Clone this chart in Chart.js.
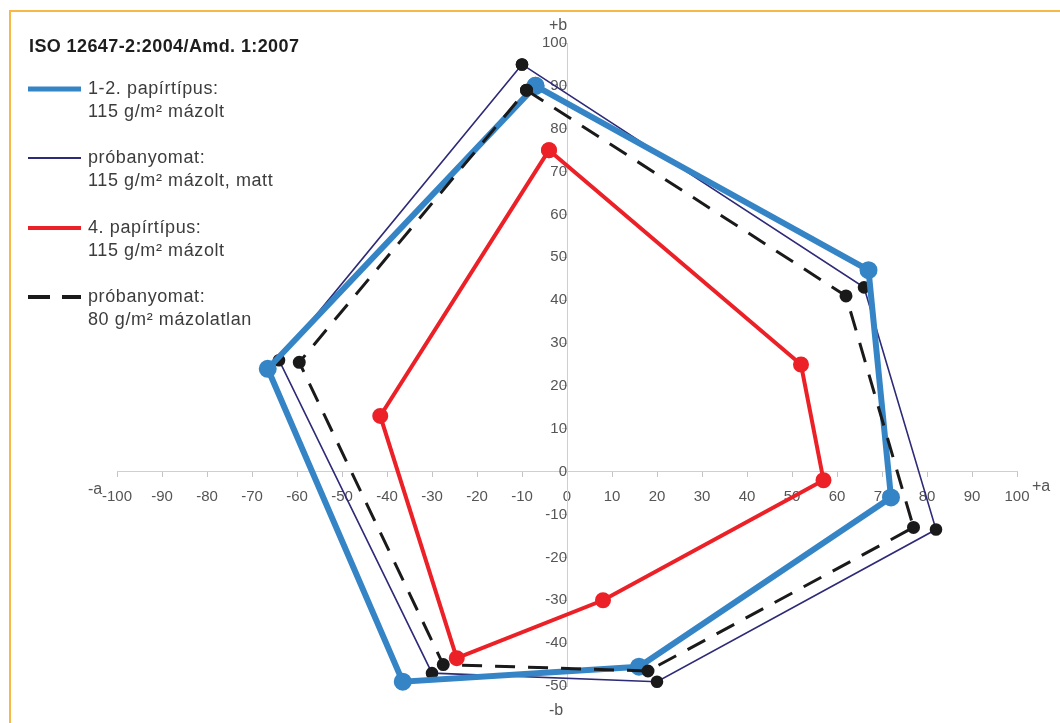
<!DOCTYPE html>
<html lang="hu">
<head>
<meta charset="utf-8">
<title>a*b* gamut</title>
<script src="https://cdn.jsdelivr.net/npm/chart.js@4/dist/chart.umd.min.js"></script>
<style>
  html, body { margin: 0; padding: 0; background: #fff; overflow: hidden; }
  #frame { position: absolute; left: 9px; top: 10px; width: 1100px; height: 800px;
           border-left: 2px solid #f8b848; border-top: 2px solid #f8b848; box-sizing: border-box; }
  #wrap { position: absolute; left: 0; top: 0; width: 1060px; height: 723px; }
</style>
</head>
<body>
<div id="frame"></div>
<div id="wrap"><canvas id="c"></canvas></div>
<script>
// a*, b* coordinates of the six gamut corners (Y, R, M, B, C, G order)
const paper12A = [-7, 67, 72, 16, -36.5, -66.5];
const paper12B = [90, 47, -6, -45.5, -49, 24];

const proofMattA = [-10, 66, 82, 20, -30, -64];
const proofMattB = [95, 43, -13.5, -49, -47, 26];

const paper4A = [-4, 52, 57, 8, -24.5, -41.5];
const paper4B = [75, 25, -2, -30, -43.5, 13];

const proofUncoatedA = [-9, 62, 77, 18, -27.5, -59.5];
const proofUncoatedB = [89, 41, -13, -46.5, -45, 25.5];

// axis ranges and labels
const aTicks = [-100, -90, -80, -70, -60, -50, -40, -30, -20, -10, 0, 10, 20, 30, 40, 50, 60, 70, 80, 90, 100];
const bTicks = [-50, -40, -30, -20, -10, 0, 10, 20, 30, 40, 50, 60, 70, 80, 90, 100];

const legendTitle = 'ISO 12647-2:2004/Amd. 1:2007';
const legendLabels = [
  ['1-2. papírtípus:', '115 g/m² mázolt'],
  ['próbanyomat:', '115 g/m² mázolt, matt'],
  ['4. papírtípus:', '115 g/m² mázolt'],
  ['próbanyomat:', '80 g/m² mázolatlan']
];

// closed polygon from two coordinate lists
function polygon(as, bs) {
  const pts = as.map((a, i) => ({ x: a, y: bs[i] }));
  pts.push({ x: as[0], y: bs[0] });
  return pts;
}

const BLUE = '#3585c6';
const NAVY = '#2d2a78';
const RED = '#ec2127';
const BLACK = '#1a1a1a';

const styles = [
  { color: BLUE, width: 5, dash: [] },
  { color: NAVY, width: 2, dash: [] },
  { color: RED, width: 4, dash: [] },
  { color: BLACK, width: 4, dash: [22, 12] }
];

const legendPlugin = {
  id: 'gamutLegend',
  afterDraw(chart) {
    const ctx = chart.ctx;
    ctx.save();
    ctx.textBaseline = 'middle';
    ctx.textAlign = 'left';
    ctx.fillStyle = '#1e1e1e';
    ctx.font = 'bold 18px "Liberation Sans", Arial, sans-serif';
    ctx.letterSpacing = '0.4px';
    ctx.fillText(legendTitle, 29, 47);
    const rows = [89, 158, 228, 297];
    legendLabels.forEach((lines, i) => {
      const y = rows[i];
      const s = styles[i];
      ctx.strokeStyle = s.color;
      ctx.lineWidth = s.width;
      ctx.setLineDash(s.dash);
      ctx.beginPath();
      ctx.moveTo(28, y);
      ctx.lineTo(81, y);
      ctx.stroke();
      ctx.setLineDash([]);
      ctx.fillStyle = '#3c3c3c';
      ctx.font = '18px "Liberation Sans", Arial, sans-serif';
      ctx.letterSpacing = '0.6px';
      ctx.fillText(lines[0], 88, y);
      ctx.fillText(lines[1], 88, y + 23);
    });
    // axis end labels
    ctx.letterSpacing = '0px';
    ctx.fillStyle = '#555';
    ctx.font = '16px "Liberation Sans", Arial, sans-serif';
    ctx.textAlign = 'center';
    ctx.fillText('-a', 95, 490);
    ctx.fillText('+a', 1041, 487);
    ctx.fillText('+b', 558, 26);
    ctx.fillText('-b', 556, 711);
    ctx.restore();
  }
};

const tickFont = { family: '"Liberation Sans", Arial, sans-serif', size: 15 };

new Chart(document.getElementById('c'), {
  type: 'scatter',
  data: {
    datasets: [
      {
        label: legendLabels[2].join(' '),
        data: polygon(paper4A, paper4B),
        showLine: true,
        borderColor: RED, borderWidth: 4,
        pointBackgroundColor: RED, pointBorderColor: RED, pointRadius: 6,
        clip: false
      },
      {
        label: legendLabels[3].join(' '),
        data: polygon(proofUncoatedA, proofUncoatedB),
        showLine: true,
        borderColor: BLACK, borderWidth: 3, borderDash: [20, 13],
        pointBackgroundColor: BLACK, pointBorderColor: BLACK, pointRadius: 5,
        clip: false
      },
      {
        label: legendLabels[0].join(' '),
        data: polygon(paper12A, paper12B),
        showLine: true,
        borderColor: BLUE, borderWidth: 6,
        pointBackgroundColor: BLUE, pointBorderColor: BLUE, pointRadius: 6,
        clip: false
      },
      {
        label: legendLabels[1].join(' '),
        data: polygon(proofMattA, proofMattB),
        showLine: true,
        borderColor: NAVY, borderWidth: 1.6,
        pointBackgroundColor: BLACK, pointBorderColor: BLACK, pointRadius: 5.5,
        clip: false
      }
    ]
  },
  options: {
    responsive: true,
    maintainAspectRatio: false,
    animation: false,
    layout: { padding: { left: 117, right: 43, top: 43, bottom: 37 } },
    plugins: { legend: { display: false }, tooltip: { enabled: false } },
    elements: { line: { tension: 0, borderJoinStyle: 'miter' } },
    scales: {
      x: {
        type: 'linear',
        position: { y: 0 },
        min: aTicks[0], max: aTicks[aTicks.length - 1],
        afterFit(s) { s.height = 0; },
        afterBuildTicks(s) { s.ticks = aTicks.map(v => ({ value: v })); },
        ticks: { color: '#555', font: tickFont, padding: 11, autoSkip: false, maxRotation: 0 },
        grid: { drawOnChartArea: false, drawTicks: true, tickLength: 5, color: '#c4c4c4' },
        border: { display: true, color: '#cfcfcf', width: 1 }
      },
      y: {
        type: 'linear',
        position: { x: 0 },
        min: bTicks[0], max: bTicks[bTicks.length - 1],
        afterFit(s) { s.width = 0; },
        afterBuildTicks(s) { s.ticks = bTicks.map(v => ({ value: v })); },
        ticks: { color: '#555', font: tickFont, padding: 8, autoSkip: false },
        grid: { drawOnChartArea: false, drawTicks: true, tickLength: 5, color: '#c4c4c4' },
        border: { display: true, color: '#cfcfcf', width: 1 }
      }
    }
  },
  plugins: [legendPlugin]
});
</script>
</body>
</html>
